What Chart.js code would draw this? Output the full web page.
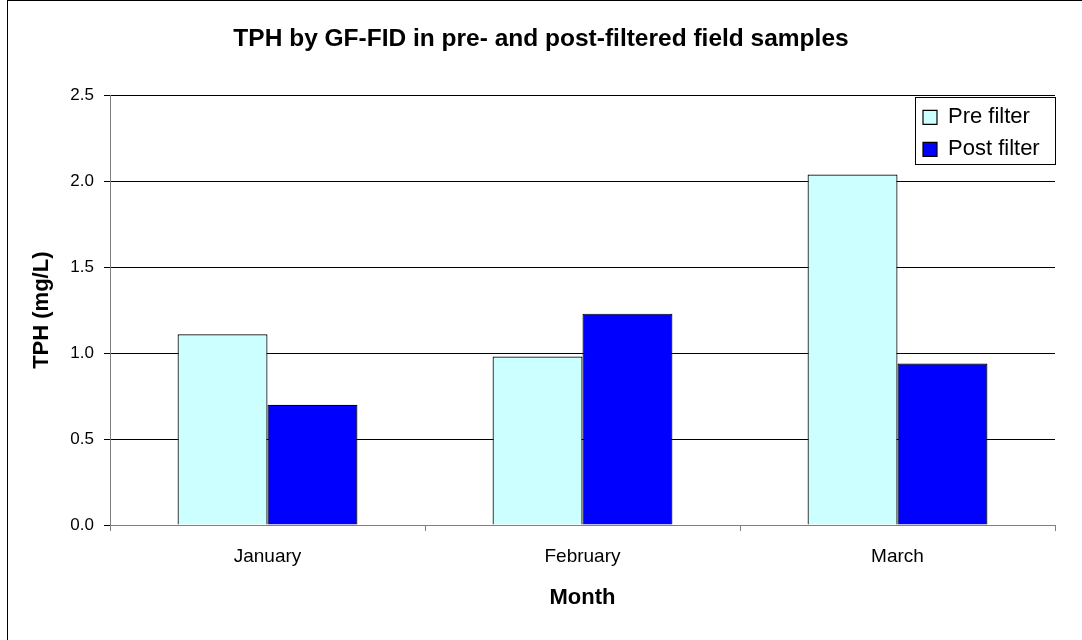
<!DOCTYPE html>
<html>
<head>
<meta charset="utf-8">
<script src="https://cdn.jsdelivr.net/npm/chart.js@4"></script>
<style>
  html, body { margin: 0; padding: 0; background: #fff; }
  #wrap { width: 1082px; height: 640px; }
</style>
</head>
<body>
<div id="wrap"><canvas id="tphChart" width="1082" height="640"></canvas></div>
<script>
const months = ['January', 'February', 'March'];
const preFilter = [1.11, 0.98, 2.04];
const postFilter = [0.70, 1.23, 0.94];
const yTicks = [0, 0.5, 1.0, 1.5, 2.0, 2.5];

const fontFamily = "'Liberation Sans', Arial, sans-serif";
const axisGrey = '#808080';

// white page and the chart frame (right and bottom edges fall off the canvas)
const framePlugin = {
    id: 'frame',
    beforeDraw(chart) {
        const ctx = chart.ctx;
        ctx.save();
        ctx.fillStyle = '#fff';
        ctx.fillRect(0, 0, chart.width, chart.height);
        ctx.strokeStyle = '#000';
        ctx.lineWidth = 1;
        ctx.strokeRect(7.5, 0.5, chart.width + 10, chart.height + 10);
        ctx.restore();
    }
};

// put the legend in the top right corner of the plot area, with a box round it
const legendBoxPlugin = {
    id: 'legendBox',
    afterLayout(chart) {
        const lg = chart.legend;
        const area = chart.chartArea;
        lg.left = area.right - 142;
        lg.top = area.top + 1;
        lg.right = area.right;
        lg.bottom = area.top + 90;
    },
    afterDraw(chart) {
        const area = chart.chartArea;
        const ctx = chart.ctx;
        ctx.save();
        ctx.strokeStyle = '#000';
        ctx.lineWidth = 1;
        ctx.strokeRect(Math.round(area.right - 140) + 0.5, Math.round(area.top + 2) + 0.5, 140, 67);
        ctx.restore();
    }
};

new Chart(document.getElementById('tphChart').getContext('2d'), {
    type: 'bar',
    data: {
        labels: months,
        datasets: [
            {
                label: 'Pre filter',
                data: preFilter,
                backgroundColor: '#CCFFFF',
                borderColor: '#000',
                borderWidth: 1.2
            },
            {
                label: 'Post filter',
                data: postFilter,
                backgroundColor: '#0000FF',
                borderColor: '#000',
                borderWidth: 1.2
            }
        ]
    },
    options: {
        animation: false,
        responsive: false,
        layout: { padding: { left: 27, right: 27, top: 0, bottom: 0 } },
        datasets: {
            bar: { categoryPercentage: 0.571, barPercentage: 1.0 }
        },
        scales: {
            x: {
                afterFit: scale => { scale.height = 115; },
                grid: {
                    offset: true,
                    drawOnChartArea: false,
                    drawTicks: true,
                    tickLength: 6,
                    color: axisGrey
                },
                border: { color: axisGrey, width: 1 },
                ticks: {
                    color: '#000',
                    padding: 14,
                    font: { family: fontFamily, size: 19 }
                },
                title: {
                    display: true,
                    text: 'Month',
                    color: '#000',
                    padding: { top: 0, bottom: 29 },
                    font: { family: fontFamily, size: 22, weight: 'bold' }
                }
            },
            y: {
                min: 0,
                max: 2.5,
                afterFit: scale => { scale.width = 83; },
                afterBuildTicks: scale => {
                    scale.ticks = yTicks.map(v => ({ value: v }));
                },
                grid: {
                    color: '#000',
                    lineWidth: 1,
                    drawTicks: true,
                    tickLength: 6
                },
                border: { color: axisGrey, width: 1 },
                ticks: {
                    color: '#000',
                    padding: 10,
                    font: { family: fontFamily, size: 17 },
                    callback: value => Number(value).toFixed(1)
                },
                title: {
                    display: true,
                    text: 'TPH (mg/L)',
                    color: '#000',
                    padding: { top: 2, bottom: 0 },
                    font: { family: fontFamily, size: 22, weight: 'bold' }
                }
            }
        },
        plugins: {
            title: {
                display: true,
                text: 'TPH by GF-FID in pre- and post-filtered field samples',
                color: '#000',
                padding: { top: 25, bottom: 41 },
                font: { family: fontFamily, size: 24.5, weight: 'bold' }
            },
            legend: {
                position: 'chartArea',
                align: 'start',
                labels: {
                    color: '#000',
                    boxWidth: 14,
                    boxHeight: 14,
                    padding: 10,
                    font: { family: fontFamily, size: 22 }
                }
            },
            tooltip: { enabled: false }
        }
    },
    plugins: [framePlugin, legendBoxPlugin]
});
</script>
</body>
</html>
